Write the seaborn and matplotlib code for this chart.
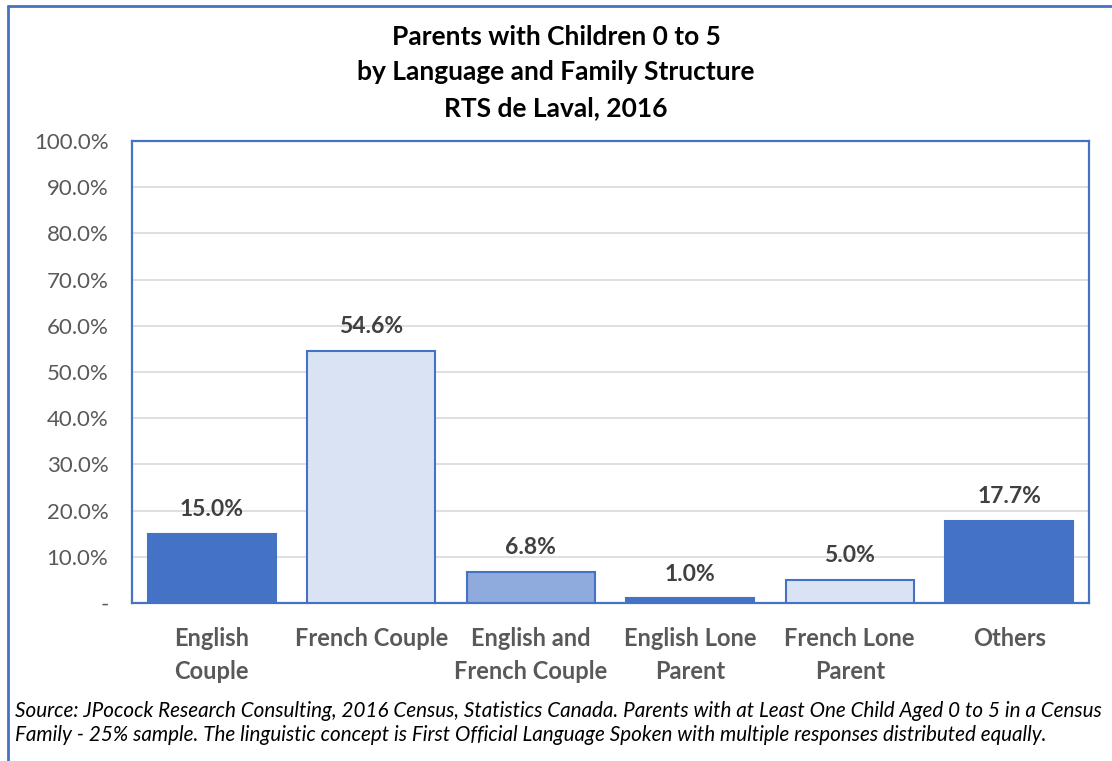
import matplotlib
matplotlib.use("Agg")
import matplotlib.pyplot as plt
import seaborn as sns
import pandas as pd
from matplotlib.lines import Line2D
from matplotlib.ticker import FuncFormatter

# --- DATA ---
categories = ["English\nCouple", "French Couple", "English and\nFrench Couple",
              "English Lone\nParent", "French Lone\nParent", "Others"]
shares = [15.0, 54.6, 6.8, 1.0, 5.0, 17.7]
fill_colors = ["#4472C4", "#DAE3F3", "#8FAADC", "#4472C4", "#DAE3F3", "#4472C4"]

df = pd.DataFrame({"Category": categories, "Share": shares})

sns.set_style("white")
plt.rcParams["font.family"] = ["Lato", "DejaVu Sans"]

fig = plt.figure(figsize=(11.12, 7.61), dpi=100)
ax = fig.add_axes([0.1187, 0.2076, 0.8606, 0.607])

sns.barplot(data=df, x="Category", y="Share", hue="Category",
            palette=fill_colors, saturation=1, width=0.8, legend=False, ax=ax,
            edgecolor="#4472C4", linewidth=1.5, zorder=3)

ax.set_ylim(0, 100)
ax.set_xlim(-0.5, len(categories) - 0.5)
ax.set_yticks(range(0, 101, 10))
ax.yaxis.set_major_formatter(FuncFormatter(lambda v, p: "-" if v == 0 else f"{v:.1f}%"))
ax.grid(axis="y", color="#D9D9D9", linewidth=1.2, zorder=0)
ax.set_axisbelow(True)
for s in ax.spines.values():
    s.set_color("#4472C4")
    s.set_linewidth(1.6)
    s.set_visible(True)

ax.set_xlabel("")
ax.set_ylabel("")
ax.tick_params(axis="y", labelsize=16, colors="#595959", length=0, pad=17)
ax.tick_params(axis="x", labelsize=17, colors="#595959", length=0, pad=17)
for lbl in ax.get_xticklabels():
    lbl.set_fontweight("bold")
    lbl.set_linespacing(1.55)

for i, v in enumerate(shares):
    ax.text(i, v + 3.0, f"{v:.1f}%", ha="center", va="bottom",
            fontsize=16.5, fontweight="bold", color="#404040")

title_lines = ["Parents with Children 0 to 5", "by Language and Family Structure",
               "RTS de Laval, 2016"]
for y, t in zip([0.952, 0.905, 0.858], title_lines):
    fig.text(0.5, y, t, ha="center", va="center",
             fontsize=19, fontweight="bold", color="black")

source_lines = [
    "Source: JPocock Research Consulting, 2016 Census, Statistics Canada. Parents with at Least One Child Aged 0 to 5 in a Census",
    "Family - 25% sample. The linguistic concept is First Official Language Spoken with multiple responses distributed equally.",
]
for y, t in zip([0.066, 0.0345], source_lines):
    fig.text(0.0135, y, t, ha="left", va="center", fontsize=14.9,
             fontstyle="italic", color="black")

# outer chart border (left and top visible)
fig.add_artist(Line2D([0.0068, 0.0068], [0.0, 0.992], transform=fig.transFigure,
                      color="#4472C4", linewidth=2))
fig.add_artist(Line2D([0.0068, 1.0], [0.992, 0.992], transform=fig.transFigure,
                      color="#4472C4", linewidth=2))

fig.savefig("out.png", dpi=100)
